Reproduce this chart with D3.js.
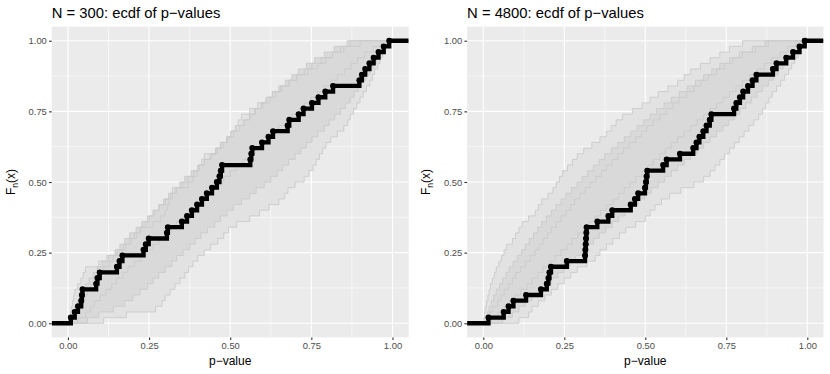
<!DOCTYPE html>
<html>
<head>
<meta charset="utf-8">
<script src="https://cdn.jsdelivr.net/npm/d3@7"></script>
<style>
  body { margin: 0; background: #fff; }
  text { font-family: "Liberation Sans", Arial, sans-serif; }
</style>
</head>
<body>
<svg id="chart" width="830" height="374"></svg>
<script>
var obs300 = [0.009, 0.021, 0.031, 0.041, 0.043, 0.045, 0.087, 0.091, 0.098, 0.151,
              0.159, 0.168, 0.233, 0.240, 0.249, 0.305, 0.308, 0.351, 0.367, 0.382,
              0.398, 0.413, 0.428, 0.444, 0.459, 0.467, 0.471, 0.475, 0.562, 0.565,
              0.568, 0.598, 0.618, 0.632, 0.677, 0.682, 0.711, 0.726, 0.752, 0.772,
              0.793, 0.817, 0.898, 0.906, 0.916, 0.929, 0.942, 0.957, 0.973, 0.990];

var obs4800 = [0.016, 0.063, 0.078, 0.093, 0.132, 0.178, 0.196, 0.201, 0.204, 0.209,
               0.258, 0.314, 0.315, 0.316, 0.317, 0.318, 0.319, 0.352, 0.386, 0.398,
               0.455, 0.468, 0.478, 0.499, 0.502, 0.504, 0.506, 0.555, 0.566, 0.607,
               0.648, 0.658, 0.667, 0.679, 0.689, 0.699, 0.704, 0.774, 0.781, 0.792,
               0.802, 0.817, 0.831, 0.843, 0.894, 0.905, 0.935, 0.956, 0.976, 0.992];

// grey reference ecdfs, N = 300 (outer ones trace the edges of the grey band)
var grey300_a = [0.004, 0.008, 0.010, 0.014, 0.018, 0.021, 0.030, 0.040, 0.047, 0.054,
                 0.095, 0.120, 0.160, 0.178, 0.195, 0.212, 0.225, 0.262, 0.285, 0.300,
                 0.306, 0.312, 0.316, 0.322, 0.370, 0.385, 0.398, 0.405, 0.412, 0.420,
                 0.460, 0.478, 0.492, 0.505, 0.515, 0.525, 0.535, 0.560, 0.585, 0.610,
                 0.630, 0.655, 0.680, 0.706, 0.740, 0.770, 0.795, 0.815, 0.840, 0.870];
var grey300_b = [0.005, 0.015, 0.022, 0.030, 0.038, 0.045, 0.055, 0.065, 0.078, 0.090,
                 0.105, 0.125, 0.145, 0.160, 0.175, 0.190, 0.210, 0.228, 0.245, 0.262,
                 0.280, 0.295, 0.310, 0.330, 0.345, 0.360, 0.380, 0.400, 0.420, 0.438,
                 0.455, 0.470, 0.490, 0.510, 0.528, 0.545, 0.560, 0.578, 0.595, 0.612,
                 0.630, 0.650, 0.670, 0.690, 0.710, 0.735, 0.760, 0.790, 0.820, 0.860];
var grey300_c = [0.012, 0.025, 0.030, 0.041, 0.052, 0.060, 0.071, 0.088, 0.095, 0.110,
                 0.128, 0.140, 0.152, 0.171, 0.190, 0.205, 0.222, 0.240, 0.251, 0.265,
                 0.281, 0.300, 0.322, 0.335, 0.352, 0.370, 0.388, 0.401, 0.420, 0.441,
                 0.455, 0.470, 0.489, 0.501, 0.520, 0.540, 0.560, 0.575, 0.600, 0.622,
                 0.640, 0.660, 0.682, 0.705, 0.730, 0.752, 0.780, 0.815, 0.850, 0.900];
var grey300_d = [0.030, 0.055, 0.070, 0.082, 0.100, 0.118, 0.135, 0.150, 0.170, 0.185,
                 0.205, 0.225, 0.240, 0.262, 0.280, 0.300, 0.318, 0.335, 0.355, 0.372,
                 0.390, 0.410, 0.428, 0.445, 0.462, 0.480, 0.500, 0.520, 0.540, 0.560,
                 0.578, 0.598, 0.615, 0.632, 0.650, 0.672, 0.690, 0.712, 0.730, 0.750,
                 0.770, 0.790, 0.810, 0.830, 0.852, 0.872, 0.892, 0.915, 0.940, 0.965];
var grey300_e = [0.060, 0.095, 0.140, 0.175, 0.200, 0.222, 0.245, 0.262, 0.280, 0.300,
                 0.320, 0.335, 0.355, 0.375, 0.392, 0.410, 0.430, 0.452, 0.470, 0.490,
                 0.510, 0.535, 0.560, 0.580, 0.605, 0.625, 0.645, 0.662, 0.680, 0.700,
                 0.718, 0.735, 0.752, 0.770, 0.790, 0.805, 0.822, 0.840, 0.855, 0.870,
                 0.882, 0.895, 0.905, 0.918, 0.930, 0.940, 0.952, 0.962, 0.972, 0.982];
var grey300_f = [0.110, 0.180, 0.270, 0.290, 0.300, 0.315, 0.330, 0.345, 0.360, 0.372,
                 0.385, 0.400, 0.420, 0.440, 0.462, 0.480, 0.495, 0.520, 0.560, 0.590,
                 0.620, 0.650, 0.668, 0.678, 0.700, 0.728, 0.742, 0.755, 0.765, 0.775,
                 0.785, 0.795, 0.810, 0.830, 0.850, 0.862, 0.870, 0.880, 0.890, 0.900,
                 0.910, 0.920, 0.930, 0.938, 0.945, 0.955, 0.962, 0.970, 0.978, 0.985];

// grey reference ecdfs, N = 4800
var grey4800_a = [0.002, 0.004, 0.006, 0.010, 0.014, 0.018, 0.022, 0.028, 0.034, 0.040,
                  0.048, 0.056, 0.064, 0.072, 0.090, 0.100, 0.110, 0.120, 0.140, 0.160,
                  0.170, 0.180, 0.200, 0.215, 0.225, 0.235, 0.245, 0.260, 0.275, 0.290,
                  0.310, 0.335, 0.360, 0.380, 0.395, 0.410, 0.430, 0.460, 0.490, 0.515,
                  0.540, 0.570, 0.600, 0.620, 0.640, 0.670, 0.700, 0.730, 0.760, 0.800];
var grey4800_b = [0.005, 0.012, 0.018, 0.025, 0.032, 0.040, 0.050, 0.060, 0.070, 0.080,
                  0.092, 0.105, 0.118, 0.130, 0.142, 0.155, 0.168, 0.180, 0.195, 0.210,
                  0.225, 0.240, 0.255, 0.272, 0.290, 0.305, 0.322, 0.340, 0.358, 0.375,
                  0.395, 0.415, 0.435, 0.455, 0.475, 0.495, 0.515, 0.535, 0.558, 0.580,
                  0.605, 0.630, 0.655, 0.680, 0.705, 0.730, 0.760, 0.790, 0.830, 0.870];
var grey4800_c = [0.010, 0.020, 0.030, 0.045, 0.055, 0.065, 0.078, 0.090, 0.100, 0.115,
                  0.130, 0.145, 0.160, 0.172, 0.185, 0.198, 0.210, 0.225, 0.240, 0.255,
                  0.270, 0.282, 0.298, 0.315, 0.330, 0.348, 0.365, 0.380, 0.398, 0.415,
                  0.432, 0.450, 0.470, 0.488, 0.505, 0.525, 0.545, 0.565, 0.585, 0.605,
                  0.628, 0.650, 0.672, 0.695, 0.720, 0.745, 0.770, 0.800, 0.840, 0.880];
var grey4800_d = [0.025, 0.045, 0.065, 0.080, 0.098, 0.115, 0.135, 0.150, 0.168, 0.185,
                  0.205, 0.222, 0.240, 0.258, 0.275, 0.292, 0.310, 0.328, 0.345, 0.362,
                  0.380, 0.400, 0.418, 0.435, 0.452, 0.470, 0.490, 0.508, 0.525, 0.545,
                  0.562, 0.580, 0.600, 0.620, 0.640, 0.660, 0.680, 0.700, 0.720, 0.740,
                  0.760, 0.780, 0.800, 0.822, 0.845, 0.868, 0.890, 0.915, 0.940, 0.965];
var grey4800_e = [0.060, 0.090, 0.110, 0.130, 0.150, 0.170, 0.190, 0.210, 0.230, 0.250,
                  0.268, 0.285, 0.305, 0.322, 0.340, 0.358, 0.378, 0.398, 0.418, 0.438,
                  0.458, 0.478, 0.498, 0.518, 0.540, 0.560, 0.580, 0.600, 0.620, 0.640,
                  0.660, 0.680, 0.700, 0.720, 0.740, 0.758, 0.775, 0.792, 0.810, 0.828,
                  0.845, 0.862, 0.880, 0.895, 0.910, 0.925, 0.940, 0.955, 0.970, 0.982];
var grey4800_f = [0.110, 0.140, 0.150, 0.170, 0.190, 0.210, 0.230, 0.250, 0.270, 0.290,
                  0.320, 0.345, 0.360, 0.380, 0.400, 0.420, 0.440, 0.470, 0.500, 0.515,
                  0.530, 0.550, 0.575, 0.610, 0.650, 0.680, 0.700, 0.715, 0.730, 0.745,
                  0.760, 0.775, 0.790, 0.805, 0.820, 0.835, 0.850, 0.862, 0.872, 0.882,
                  0.892, 0.905, 0.918, 0.930, 0.942, 0.952, 0.962, 0.972, 0.980, 0.988];

var ticks = [0, 0.25, 0.5, 0.75, 1];
var minorTicks = [0.125, 0.375, 0.625, 0.875];
var tickLabels = ["0.00", "0.25", "0.50", "0.75", "1.00"];
var titles = ["N = 300: ecdf of p\u2212values", "N = 4800: ecdf of p\u2212values"];

var svg = d3.select("#chart");
var top_ = 26.6, bottom_ = 337.4;

var panels = [
    { left: 51.7, right: 408.7, obs: obs300, title: titles[0],
      greys: [grey300_a, grey300_b, grey300_c, grey300_d, grey300_e, grey300_f] },
    { left: 467.1, right: 823.5, obs: obs4800, title: titles[1],
      greys: [grey4800_a, grey4800_b, grey4800_c, grey4800_d, grey4800_e, grey4800_f] }
];

// ecdf corner points, padded out to the panel edges
function stepPoints(vals) {
    var n = vals.length, pts = [[-0.05, 0]];
    vals.forEach(function (v, i) {
        pts.push([v, i / n]);
        pts.push([v, (i + 1) / n]);
    });
    pts.push([1.05, 1]);
    return pts;
}

panels.forEach(function (p, pi) {
    var x = d3.scaleLinear().domain([-0.05, 1.05]).range([p.left, p.right]);
    var y = d3.scaleLinear().domain([-0.05, 1.05]).range([bottom_, top_]);
    var g = svg.append("g");

    g.append("rect")
        .attr("x", p.left).attr("y", top_)
        .attr("width", p.right - p.left).attr("height", bottom_ - top_)
        .attr("fill", "#ebebeb");

    var clipId = "clip" + pi;
    g.append("clipPath").attr("id", clipId).append("rect")
        .attr("x", p.left).attr("y", top_)
        .attr("width", p.right - p.left).attr("height", bottom_ - top_);

    // grid
    minorTicks.forEach(function (t) {
        g.append("line").attr("x1", x(t)).attr("x2", x(t)).attr("y1", top_).attr("y2", bottom_)
            .attr("stroke", "#fff").attr("stroke-width", 0.55);
        g.append("line").attr("x1", p.left).attr("x2", p.right).attr("y1", y(t)).attr("y2", y(t))
            .attr("stroke", "#fff").attr("stroke-width", 0.55);
    });
    ticks.forEach(function (t) {
        g.append("line").attr("x1", x(t)).attr("x2", x(t)).attr("y1", top_).attr("y2", bottom_)
            .attr("stroke", "#fff").attr("stroke-width", 1.1);
        g.append("line").attr("x1", p.left).attr("x2", p.right).attr("y1", y(t)).attr("y2", y(t))
            .attr("stroke", "#fff").attr("stroke-width", 1.1);
    });

    var line = d3.line().x(function (d) { return x(d[0]); }).y(function (d) { return y(d[1]); });
    var plot = g.append("g").attr("clip-path", "url(#" + clipId + ")");

    // grey band: faint over the full spread, denser in the middle
    var outer = stepPoints(p.greys[0]).concat(stepPoints(p.greys[5]).reverse());
    plot.append("path")
        .attr("d", line(outer) + "Z")
        .attr("fill", "#e2e2e2");
    var inner = stepPoints(p.greys[1]).concat(stepPoints(p.greys[4]).reverse());
    plot.append("path")
        .attr("d", line(inner) + "Z")
        .attr("fill", "#d9d9d9");

    plot.selectAll(".grey")
        .data(p.greys)
        .enter()
        .append("path")
        .attr("class", "grey")
        .attr("d", function (d) { return line(stepPoints(d)); })
        .attr("fill", "none")
        .attr("stroke", "#cbcbcb")
        .attr("stroke-width", 0.9);

    plot.append("path")
        .attr("d", line(stepPoints(p.obs)))
        .attr("fill", "none")
        .attr("stroke", "#000")
        .attr("stroke-width", 4.3);

    plot.selectAll(".pt")
        .data(p.obs)
        .enter()
        .append("circle")
        .attr("class", "pt")
        .attr("cx", function (d) { return x(d); })
        .attr("cy", function (d, i) { return y((i + 1) / p.obs.length); })
        .attr("r", 3)
        .attr("fill", "#000");

    // axes
    var xAxis = d3.axisBottom(x).tickValues(ticks)
        .tickFormat(function (d, i) { return tickLabels[i]; })
        .tickSize(2.7).tickPadding(2.2);
    var yAxis = d3.axisLeft(y).tickValues(ticks)
        .tickFormat(function (d, i) { return tickLabels[i]; })
        .tickSize(2.7).tickPadding(2.2);

    var gx = g.append("g").attr("transform", "translate(0," + bottom_ + ")").call(xAxis);
    var gy = g.append("g").attr("transform", "translate(" + p.left + ",0)").call(yAxis);
    [gx, gy].forEach(function (a) {
        a.select(".domain").remove();
        a.selectAll(".tick line").attr("stroke", "#333").attr("stroke-width", 1.1);
        a.selectAll(".tick text").attr("fill", "#4d4d4d").style("font-size", "9.4px");
    });

    g.append("text")
        .attr("x", (p.left + p.right) / 2)
        .attr("y", 365)
        .attr("text-anchor", "middle")
        .style("font-size", "12px")
        .attr("fill", "#000")
        .text("p\u2212value");

    var yl = g.append("text")
        .attr("transform", "translate(" + (p.left - 37) + "," + ((top_ + bottom_) / 2) + ") rotate(-90)")
        .attr("text-anchor", "middle")
        .style("font-size", "12px")
        .attr("fill", "#000");
    yl.append("tspan").text("F");
    yl.append("tspan").attr("dy", 3).style("font-size", "8.5px").text("n");
    yl.append("tspan").attr("dy", -3).text("(x)");

    g.append("text")
        .attr("x", p.left)
        .attr("y", 18)
        .style("font-size", "14.8px")
        .attr("fill", "#000")
        .text(p.title);
});
</script>
</body>
</html>
